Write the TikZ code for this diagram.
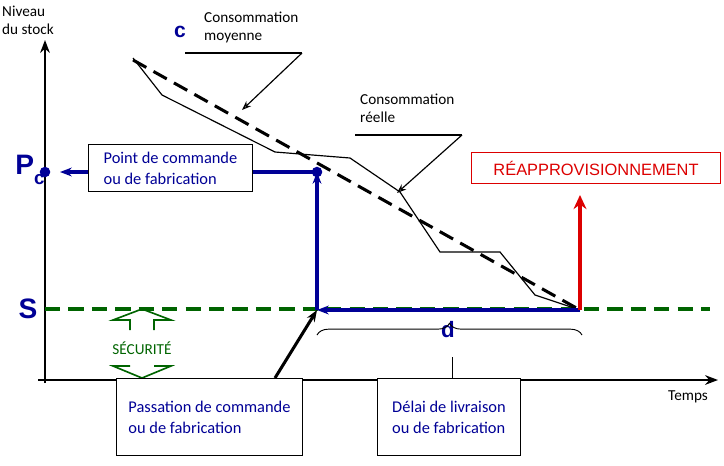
\documentclass[tikz,border=0pt]{standalone}
\usepackage{fontspec}
\setmainfont{Carlito}
\setsansfont{Liberation Sans}
\usepackage{xcolor}
\usetikzlibrary{arrows.meta, positioning, decorations.pathreplacing}
\definecolor{stkblue}{RGB}{0, 0, 150}
\definecolor{stkgreen}{RGB}{0, 100, 0}
\definecolor{stkred}{RGB}{220, 0, 0}

\begin{document}
\begin{tikzpicture}[x=0.03cm, y=-0.03cm,
  lbl/.style={font=\fontsize{13}{15}\selectfont, align=left},
  infobox/.style={draw=black, line width=0.8pt, fill=white, inner sep=6pt, align=left,
    font=\fontsize{14}{18}\selectfont, text=stkblue},
  bigletter/.style={font=\fontsize{24}{26}\selectfont\sffamily\bfseries, stkblue},
  blueline/.style={stkblue, line width=2.6pt},
]
  \useasboundingbox (0,0) rectangle (724,465);

  % Axes
  \draw[-{Stealth[length=11pt]}, line width=2.2pt] (45,383) -- (45,40);
  \draw[-{Stealth[length=11pt]}, line width=2.2pt] (38,380) -- (718,380);
  \node[lbl, anchor=north west, inner sep=0pt] (ylab) at (2,6) {Niveau\\du stock};
  \node[lbl, anchor=north west, inner sep=0pt] (xlab) at (668,390) {Temps};

  % Stock security level
  \draw[stkgreen, line width=2.6pt, dash pattern=on 13pt off 7pt] (45,309) -- (710,309);
  \node[bigletter] (S) at (28,309) {S};

  % Mean and real consumption
  \draw[line width=2.6pt, dash pattern=on 13pt off 7pt] (133,60) -- (580,310);
  \draw[line width=1pt] (133,58) -- (162,95) -- (275,152) -- (350,158) -- (400,192)
    -- (440,252) -- (500,252) -- (535,295) -- (580,310);
  \node[bigletter, font=\fontsize{18}{20}\selectfont\sffamily\bfseries] (c) at (180,32) {c};

  % Callouts
  \node[lbl, anchor=north west, inner sep=0pt] (moy) at (204,12) {Consommation\\moyenne};
  \draw[line width=1pt] (185,53) -- (302,53);
  \draw[line width=1pt, -{Stealth[length=8pt, open]}] (302,53) -- (242,110);
  \node[lbl, anchor=north west, inner sep=0pt] (reel) at (360,94) {Consommation\\réelle};
  \draw[line width=1pt] (355,135) -- (462,135);
  \draw[line width=1pt, -{Stealth[length=8pt, open]}] (462,135) -- (397,193);

  % Order point
  \node[bigletter] (Pc) at (30,170) {P\raisebox{-8pt}{\fontsize{16}{17}\selectfont c}};
  \fill[stkblue] (45,172) circle (4.5pt) coordinate (pcdot);
  \node[infobox, anchor=west, minimum width=4.92cm, minimum height=1.29cm] (cmd) at (88,168)
    {Point de commande\\ou de fabrication};
  \coordinate (order) at (317,172);
  \coordinate (pass) at (317,310);
  \coordinate (reap) at (580,310);
  \draw[blueline] (cmd.east |- order) -- (order);
  \fill[stkblue] (order) circle (4.5pt);
  \draw[blueline, -{Stealth[length=10pt]}] (cmd.west |- order) -- (60,172);
  \draw[blueline, -{Stealth[length=10pt]}] (pass) -- (order);
  \draw[blueline, -{Stealth[length=10pt]}] (reap) -- (pass);
  \node[bigletter, font=\fontsize{19}{20}\selectfont\sffamily\bfseries] (d) at (448,330) {d};

  % Replenishment
  \draw[stkred, line width=2.6pt, -{Stealth[length=12pt, width=11pt]}] (reap) -- (580,195);
  \node[draw=stkred, line width=0.8pt, text=stkred, font=\fontsize{14}{16}\selectfont\sffamily,
    minimum width=7.47cm, minimum height=0.93cm] (rea) at (596,168) {RÉAPPROVISIONNEMENT};

  % Security arrows
  \draw[stkgreen, line width=1.4pt] (130,330) -- (130,320) -- (113,320) -- (142,309)
    -- (171,320) -- (154,320) -- (154,330);
  \draw[stkgreen, line width=1.4pt] (130,366) -- (113,366) -- (142,378) -- (171,366) -- (154,366);
  \node[stkgreen, font=\fontsize{13}{15}\selectfont] (secu) at (142,348) {SÉCURITÉ};

  % Delivery delay
  \draw[decorate, decoration={brace, amplitude=10pt, mirror}, line width=0.8pt]
    (582,335) -- (317,335);
  \node[infobox, anchor=north west, minimum width=4.29cm, minimum height=2.31cm] (delai) at (377,378)
    {Délai de livraison\\ou de fabrication};
  \draw[line width=0.8pt] (452,357) -- (delai.north -| 452,378);
  \node[infobox, anchor=north west, minimum width=5.58cm, minimum height=2.31cm] (passcmd) at (116,378)
    {Passation de commande\\ou de fabrication};
  \draw[line width=2.6pt, -{Stealth[length=10pt]}] (275,378) -- (pass);
\end{tikzpicture}
\end{document}
